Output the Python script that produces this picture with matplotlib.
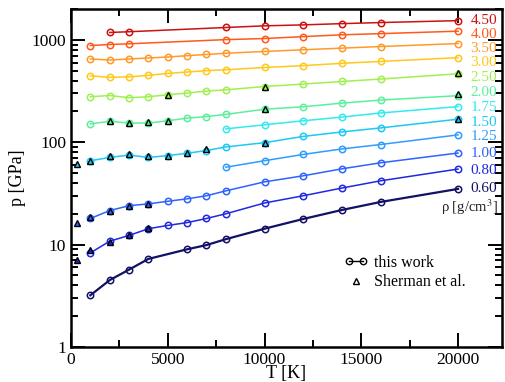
import numpy as np
import matplotlib
matplotlib.use("Agg")
import matplotlib.pyplot as plt
from matplotlib.legend_handler import HandlerLine2D
from matplotlib.ticker import LogLocator, MultipleLocator, NullFormatter

plt.rcParams['font.family'] = ['Liberation Serif', 'DejaVu Serif']
plt.rcParams['mathtext.fontset'] = 'stix'

# this work: density labels, temperatures and pressures
T_full = [1000, 2000, 3000, 4000, 5000, 6000, 7000, 8000, 10000, 12000, 14000, 16000, 20000]
T_hot = [8000, 10000, 12000, 14000, 16000, 20000]

rho_labels = ["4.50", "4.00", "3.50", "3.00", "2.50", "2.00",
              "1.75", "1.50", "1.25", "1.00", "0.80", "0.60"]

T_450 = [2000, 3000, 8000, 10000, 12000, 14000, 16000, 20000]
p_450 = [1180, 1200, 1320, 1370, 1400, 1440, 1475, 1540]
T_400 = [1000, 2000, 3000, 8000, 10000, 12000, 14000, 16000, 20000]
p_400 = [880, 900, 915, 1005, 1030, 1075, 1120, 1150, 1215]
p_350 = [650, 635, 650, 665, 680, 700, 720, 740, 770, 800, 830, 860, 920]
p_300 = [445, 430, 435, 450, 470, 485, 500, 510, 537, 560, 590, 615, 670]
p_250 = [278, 286, 272, 278, 291, 302, 316, 325, 350, 370, 392, 414, 466]
p_200 = [151, 160, 154, 154, 162, 172, 178, 187, 210, 222, 241, 258, 285]
p_175 = [135, 148, 162, 176, 193, 223]
p_150 = [66, 71, 75, 71, 74, 78, 83, 90, 99, 114, 126, 138, 168]
p_125 = [57, 66, 76, 86, 95, 118]
p_100 = [18, 21.5, 24, 25, 26.5, 28, 30, 33.5, 41, 47, 55, 63, 78.5]
p_080 = [8.3, 10.8, 12.3, 14.3, 15.4, 16.4, 18, 20, 25.5, 30, 35.7, 42, 54.7]
T_060 = [1000, 2000, 3000, 4000, 6000, 7000, 8000, 10000, 12000, 14000, 16000, 20000]
p_060 = [3.2, 4.5, 5.7, 7.25, 9.0, 9.9, 11.3, 14.3, 17.8, 21.8, 26.1, 35]

# Sherman et al.
Ts_250 = [5000, 10000, 20000]
ps_250 = [292, 350, 470]
Ts_200 = [2000, 3000, 4000, 5000, 10000, 20000]
ps_200 = [163, 155, 156, 163, 211, 294]
Ts_150 = [300, 1000, 2000, 3000, 4000, 5000, 6000, 7000, 10000, 20000]
ps_150 = [61, 66, 73, 77, 73, 74, 78, 85, 99, 168]
Ts_100 = [300, 1000, 2000, 3000, 4000]
ps_100 = [16.1, 18.5, 21.3, 24, 25]
Ts_080 = [300, 1000, 2000, 3000, 4000]
ps_080 = [7.1, 8.8, 10.6, 12.3, 14.6]

series = [
    (T_450, p_450, "#cc1111"),
    (T_400, p_400, "#ff5a1a"),
    (T_full, p_350, "#ff9a2a"),
    (T_full, p_300, "#ffc81a"),
    (T_full, p_250, "#9ff050"),
    (T_full, p_200, "#5cf09c"),
    (T_hot, p_175, "#33eaf0"),
    (T_full, p_150, "#1ec8f5"),
    (T_hot, p_125, "#2f9cff"),
    (T_full, p_100, "#2f62ff"),
    (T_full, p_080, "#2028e0"),
    (T_060, p_060, "#111166"),
]
sherman = [
    (Ts_250, ps_250, "#9ff050"),
    (Ts_200, ps_200, "#5cf09c"),
    (Ts_150, ps_150, "#1ec8f5"),
    (Ts_100, ps_100, "#2f62ff"),
    (Ts_080, ps_080, "#2028e0"),
]

fig = plt.figure(figsize=(5.05, 3.82), dpi=100)
ax = fig.add_axes([0.1406, 0.0916, 0.8534, 0.8848])

for T, p, c in series:
    lw = 1.6 if c == "#111166" else 1.1
    ax.plot(T, p, color=c, lw=lw, marker='o', ms=4.6, mfc='none', mec=c, mew=1.1)

for T, p, c in sherman:
    ax.plot(T, p, ls='none', marker='^', ms=4.8, mfc=c, mec='black', mew=1.0, zorder=5)

ax.set_yscale('log')
ax.set_xlim(0, 22270)
ax.set_ylim(1, 2000)
ax.xaxis.set_major_locator(MultipleLocator(5000))
ax.xaxis.set_minor_locator(MultipleLocator(2500))
ax.yaxis.set_major_locator(LogLocator(base=10))
ax.yaxis.set_minor_locator(LogLocator(base=10, subs=np.arange(2, 10)))
ax.yaxis.set_minor_formatter(NullFormatter())
ax.set_yticks([1, 10, 100, 1000])
ax.set_yticklabels(["1", "10", "100", "1000"])
ax.tick_params(which='both', direction='in', top=True, right=True, labelsize=12.5, width=1.4)
ax.tick_params(which='major', length=10)
ax.tick_params(which='minor', length=5)
for s in ax.spines.values():
    s.set_linewidth(1.8)

ax.set_xlabel("T [K]", fontsize=13, labelpad=-2)
ax.set_ylabel("p [GPa]", fontsize=13, labelpad=4)

# density labels on the right
label_ypix = [20, 34, 48, 62, 77, 92, 107, 122, 136, 153, 170, 188]
for (T, p, c), lab, yp in zip(series, rho_labels, label_ypix):
    ax.text(0.927, (347 - yp) / 338, lab, color=c, fontsize=11,
            transform=ax.transAxes, va='center', ha='left')
ax.text(0.99, (347 - 207) / 338, r"ρ [g/cm$^3$]", color='#222222', fontsize=10.5,
        transform=ax.transAxes, va='center', ha='right')

h1, = ax.plot([], [], color='black', lw=1.0, marker='o', ms=4.6, mfc='none', mec='black')
h2, = ax.plot([], [], ls='none', marker='^', ms=4.8, mfc='none', mec='black')
ax.legend([h1, h2], ["this work", "Sherman et al."], loc='upper left',
          bbox_to_anchor=(0.6, 0.315), frameon=False, fontsize=11.5,
          handlelength=1.5, handletextpad=0.4, labelspacing=0.2,
          handler_map={h1: HandlerLine2D(numpoints=2), h2: HandlerLine2D(numpoints=1)})

fig.savefig("out.png", dpi=100)
